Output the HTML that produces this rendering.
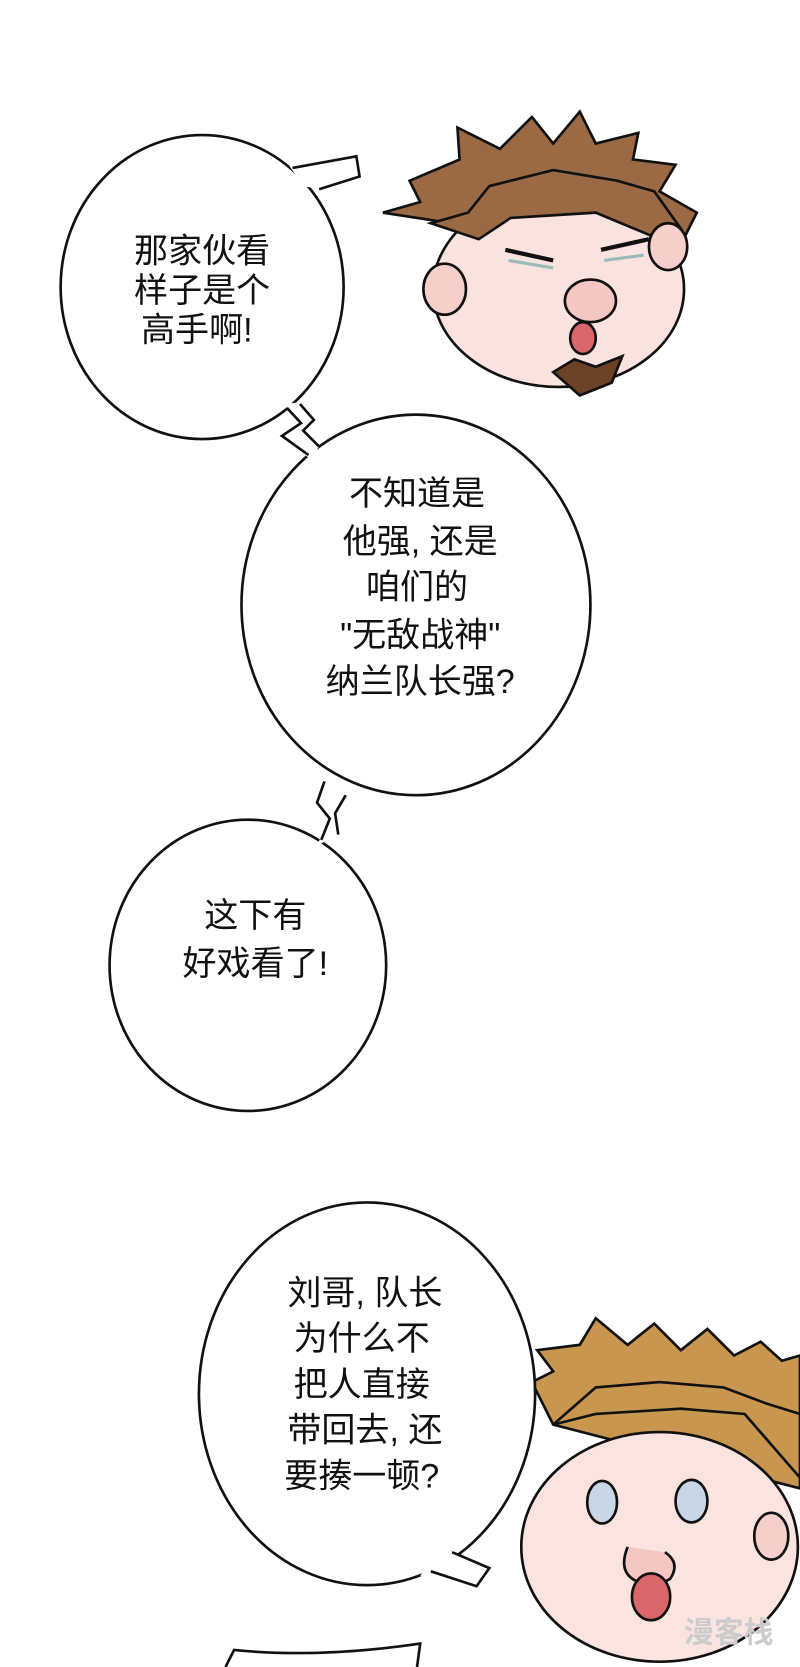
<!DOCTYPE html>
<html><head><meta charset="utf-8"><style>
html,body{margin:0;padding:0;background:#fff;}
svg{display:block}
text{font-family:"Liberation Sans","Noto Sans CJK SC",sans-serif;font-size:32px;fill:#111;text-anchor:middle}
</style></head><body>
<svg width="800" height="1667" viewBox="0 0 752 1568" preserveAspectRatio="none" xmlns="http://www.w3.org/2000/svg">
<rect width="752" height="1568" fill="#fff"/>
<g stroke="#111" stroke-width="2.5" fill="#fff" stroke-linejoin="miter">
<path d="M360,200 L395,190 L385,170 L432,150 L430,120 L470,140 L500,110 L520,135 L545,105 L560,135 L600,125 L595,150 L635,155 L620,180 L655,200 L640,230 L620,240 Z" fill="#9b6a45"/>
<ellipse cx="525" cy="272" rx="118" ry="92" fill="#fae3df"/>
<path d="M405,210 L440,200 L460,175 L520,160 L580,170 L615,180 L640,215 L620,225 L560,200 L480,205 L450,225 Z" fill="#9b6a45"/>
<ellipse cx="418" cy="272" rx="20" ry="24" fill="#f5cfc9"/>
<ellipse cx="628" cy="232" rx="18" ry="22" fill="#f5cfc9"/>
<ellipse cx="555" cy="283" rx="24" ry="20" fill="#f4c7c2"/>
<ellipse cx="548" cy="318" rx="12" ry="15" fill="#d9676a"/>
<path d="M520,350 L540,338 L560,345 L585,335 L575,360 L545,372 Z" fill="#6b4226"/>
<path d="M475,235 L520,245 M565,235 L610,225" stroke-width="4"/>
<path d="M478,245 L520,252 M568,245 L605,240" stroke="#9bb" stroke-width="3"/>
<path d="M500,1300 L520,1290 L505,1270 L545,1265 L560,1240 L590,1265 L615,1245 L640,1270 L665,1250 L690,1275 L715,1262 L735,1280 L752,1275 L752,1400 L520,1340 Z" fill="#c8964f"/>
<ellipse cx="620" cy="1455" rx="130" ry="108" fill="#fbe3df"/>
<path d="M520,1340 L560,1305 L620,1300 L680,1305 L720,1320 L752,1330 L752,1390 L700,1330 L640,1325 L560,1330 Z" fill="#c8964f"/>
<ellipse cx="566" cy="1413" rx="14" ry="20" fill="#c8d6e6"/>
<ellipse cx="650" cy="1412" rx="15" ry="20" fill="#c8d6e6"/>
<path d="M590,1455 Q580,1480 600,1488 Q615,1495 630,1485 Q640,1470 625,1460" fill="#f4c7c2"/>
<ellipse cx="612" cy="1502" rx="18" ry="22" fill="#d9676a"/>
<ellipse cx="725" cy="1445" rx="16" ry="22" fill="#f5cfc9"/>
<ellipse cx="190" cy="270" rx="133" ry="143"/>
<ellipse cx="391" cy="569" rx="164" ry="179"/>
<ellipse cx="233" cy="908" rx="130" ry="137"/>
<ellipse cx="345" cy="1311" rx="158" ry="180"/>
</g>
<g fill="#fff" stroke="none">
<polygon points="272,156 335,147 338,166 300,178 285,175"/>
<polygon points="268,380 284,378 296,395 286,405 300,420 292,432 263,410 280,398"/>
<polygon points="300,732 326,746 316,766 318,786 298,795 310,770 296,755"/>
<polygon points="415,1455 460,1475 448,1492 395,1482"/>
</g>
<g stroke="#111" stroke-width="2.5" fill="none">
<path d="M275,158 L335,147 L338,166 L300,178"/>
<path d="M270,384 L283,398 L265,410 L290,428"/>
<path d="M282,380 L295,395 L285,405 L300,420"/>
<path d="M305,735 L298,755 L310,770 L302,790"/>
<path d="M325,748 L315,765 L318,785"/>
<path d="M425,1460 L460,1475 L448,1492 L405,1478"/>
<path d="M212,1568 L220,1552 Q300,1560 395,1546 L392,1568"/>
</g>
<g>
<text x="190" y="247">那家伙看</text>
<text x="190" y="284">样子是个</text>
<text x="185" y="321">高手啊!</text>
<text x="392" y="475">不知道是</text>
<text x="395" y="520">他强, 还是</text>
<text x="392" y="563">咱们的</text>
<text x="395" y="608">"无敌战神"</text>
<text x="395" y="652">纳兰队长强?</text>
<text x="240" y="872">这下有</text>
<text x="240" y="917">好戏看了!</text>
<text x="343" y="1227">刘哥, 队长</text>
<text x="340" y="1270">为什么不</text>
<text x="340" y="1313">把人直接</text>
<text x="343" y="1356">带回去, 还</text>
<text x="340" y="1399">要揍一顿?</text>
<text x="685" y="1545" style="font-size:28px;fill:#ccc;font-weight:bold">漫客栈</text>
</g>
</svg>
</body></html>
